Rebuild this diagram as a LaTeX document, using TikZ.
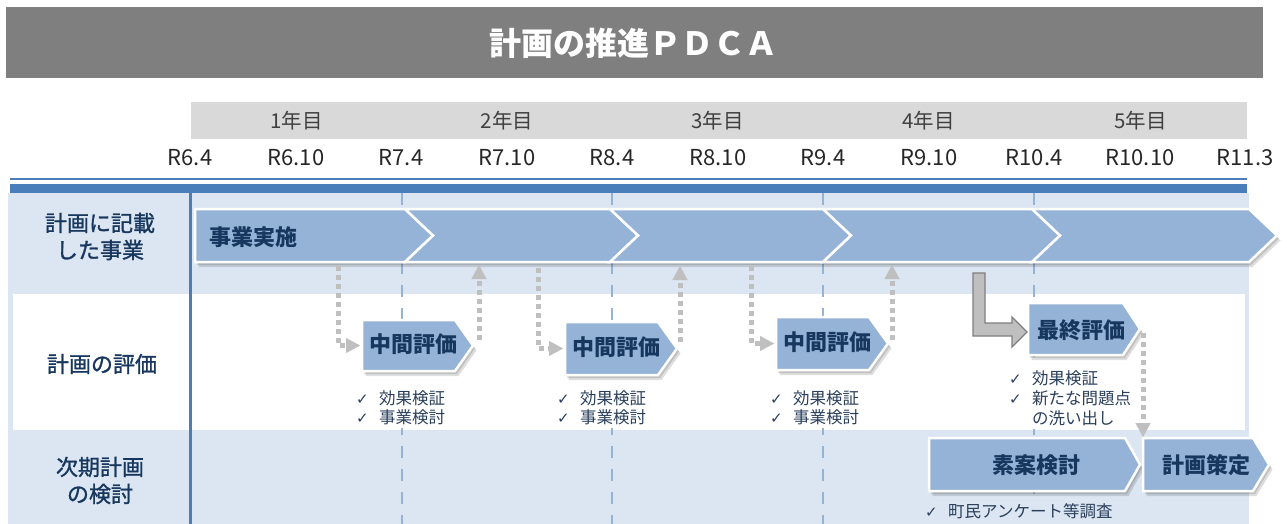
\documentclass[tikz,border=0pt]{standalone}
\usepackage{fontspec}
\setmainfont{Noto Sans CJK JP}
\newfontfamily\medfont{Noto Sans CJK JP}[RawFeature={embolden=1.2}]
\newfontfamily\symfont{DejaVu Sans}
\usetikzlibrary{arrows.meta}
\definecolor{titlegray}{HTML}{7F7F7F}
\definecolor{hdrgray}{HTML}{D9D9D9}
\definecolor{barblue}{HTML}{4A7EBB}
\definecolor{rowblue}{HTML}{DCE6F2}
\definecolor{shapeblue}{HTML}{95B3D7}
\definecolor{dashblue}{HTML}{95B3D7}
\definecolor{navy}{HTML}{17375E}
\definecolor{listnavy}{HTML}{2A3F5C}
\definecolor{dotgray}{HTML}{BFBFBF}
\definecolor{edgegray}{HTML}{7F7F7F}
\definecolor{txtgray}{HTML}{404040}
\newcommand{\fs}[2]{\fontsize{#1}{#2}\selectfont}
\newcommand{\chk}{\makebox[23pt][l]{\symfont\fontsize{15}{15}\selectfont ✓}}
% pentagon: style, left, corner, tip, top, bottom
\newcommand{\pent}[6]{\path[#1] (#2,#5) -- (#3,#5) -- (#4,{(#5+#6)/2}) -- (#3,#6) -- (#2,#6) -- cycle;}
% chevron: style, left, corner, tip, top, bottom, notch
\newcommand{\chev}[7]{\path[#1] (#2,#5) -- (#3,#5) -- (#4,{(#5+#6)/2}) -- (#3,#6) -- (#2,#6) -- (#7,{(#5+#6)/2}) -- cycle;}
\tikzset{
  blk/.style={fill=shapeblue, draw=white, line width=2.5pt, line join=miter},
  shda/.style={fill=black, opacity=0.13, shift={(2,3)}},
  shdb/.style={fill=black, opacity=0.13, shift={(3.5,5)}},
  shapetext/.style={text=navy, font=\bfseries\fs{22}{22}, inner sep=0pt},
  rowlabel/.style={text=navy, font=\medfont\fs{22}{27}, align=center, inner sep=0pt},
  listtext/.style={text=listnavy, font=\fs{16.5}{19.5}, align=left, inner sep=0pt, anchor=west},
  dotarrow/.style={draw=dotgray, line width=5pt, dash pattern=on 5pt off 4pt,
    -{Triangle[width=15pt,length=14pt,line width=0.1pt]}},
  yeartext/.style={text=txtgray, font=\fs{20.5}{20.5}, inner sep=0pt},
  datetext/.style={text=black!85, font=\fs{22}{22}, inner sep=0pt},
  vdash/.style={draw=dashblue, line width=2.5pt, dash pattern=on 12pt off 11pt},
  larrow/.style={fill=dotgray, draw=edgegray, line width=1.3pt, line join=miter}
}
\begin{document}
\begin{tikzpicture}[x=1pt,y=-1pt]
\useasboundingbox (0,0) rectangle (1287,524);
% title
\fill[titlegray] (6,7) rectangle (1263,78);
\node[text=white, font=\bfseries\fs{32}{32}, inner sep=0pt] (title) at (633,43) {計画の推進ＰＤＣＡ};
% year header
\foreach \a/\b/\t [count=\i] in {191/402/1年目,402/612/2年目,612/823/3年目,823/1034/4年目,1034/1247/5年目}{
  \fill[hdrgray] (\a,102) rectangle (\b,139);
  \draw[white, line width=1pt] (\b,102) -- (\b,139);
  \node[yeartext] (yr\i) at ({(\a+\b)/2},121) {\t};
}
% dates
\foreach \x/\t [count=\i] in {190/R6.4,296/R6.10,401/R7.4,507/R7.10,612/R8.4,718/R8.10,823/R9.4,929/R9.10,1034/R10.4,1140/R10.10,1245/R11.3}{
  \node[datetext] (dt\i) at (\x,158) {\t};
}
% bars
\draw[barblue, line width=2pt] (10,179) -- (1247,179);
\fill[barblue] (10,184) rectangle (1247,193);
% rows
\fill[rowblue] (8,193) rectangle (1249,524);
\fill[white] (13,294) rectangle (1245,430);
% dashed year lines
\foreach \x in {402,612,823,1034}{ \draw[vdash] (\x,193) -- (\x,524); }
% covers behind lists
\fill[white] (354,374) rectangle (452,428);
\fill[white] (555,377) rectangle (655,428);
\fill[white] (767,372) rectangle (865,428);
\fill[white] (1006,357) rectangle (1136,429);
\fill[rowblue] (920,494) rectangle (1115,524);
% left vertical line
\draw[barblue, line width=3pt] (190,193) -- (190,524);
% row labels
\node[rowlabel] (lab1) at (100,236.5) {計画に記載\\した事業};
\node[rowlabel] (lab2) at (102,364) {計画の評価};
\node[rowlabel] (lab3) at (100,480.5) {次期計画\\の検討};
% shadows
\foreach \s in {shdb,shda}{
  \pent{\s}{195}{405}{433}{209}{262}
  \chev{\s}{405}{610}{638}{209}{262}{433}
  \chev{\s}{610}{823}{851}{209}{262}{638}
  \chev{\s}{823}{1032}{1060}{209}{262}{851}
  \chev{\s}{1032}{1249}{1277}{209}{262}{1060}
  \pent{\s}{362}{455}{473}{320}{371}
  \pent{\s}{565}{658}{677}{322}{375}
  \pent{\s}{776}{869}{888}{317}{370}
  \pent{\s}{1028}{1123}{1140}{303}{355}
  \pent{\s}{929}{1125}{1140}{438}{491}
  \pent{\s}{1143}{1253}{1269}{438}{491}
}
% shapes
\pent{blk}{195}{405}{433}{209}{262}
\chev{blk}{405}{610}{638}{209}{262}{433}
\chev{blk}{610}{823}{851}{209}{262}{638}
\chev{blk}{823}{1032}{1060}{209}{262}{851}
\chev{blk}{1032}{1249}{1277}{209}{262}{1060}
\pent{blk}{362}{455}{473}{320}{371}
\pent{blk}{565}{658}{677}{322}{375}
\pent{blk}{776}{869}{888}{317}{370}
\pent{blk}{1028}{1123}{1140}{303}{355}
\pent{blk}{929}{1125}{1140}{438}{491}
\pent{blk}{1143}{1253}{1269}{438}{491}
% shape texts
\node[shapetext] (jigyo) at (253,237) {事業実施};
\node[shapetext] (mid1) at (413,344) {中間評価};
\node[shapetext] (mid2) at (616,347) {中間評価};
\node[shapetext] (mid3) at (827,342) {中間評価};
\node[shapetext] (final) at (1081,330) {最終評価};
\node[shapetext] (soan) at (1036,465) {素案検討};
\node[shapetext] (sakutei) at (1206,465) {計画策定};
% lists
\node[listtext] (l1a) at (356,398) {\chk 効果検証};
\node[listtext] (l1b) at (356,417) {\chk 事業検討};
\node[listtext] (l2a) at (557,398) {\chk 効果検証};
\node[listtext] (l2b) at (557,417) {\chk 事業検討};
\node[listtext] (l3a) at (770,398) {\chk 効果検証};
\node[listtext] (l3b) at (770,417) {\chk 事業検討};
\node[listtext] (l4a) at (1009,378) {\chk 効果検証};
\node[listtext] (l4b) at (1009,398) {\chk 新たな問題点};
\node[listtext] (l4c) at (1032,418) {の洗い出し};
\node[listtext] (l5a) at (925,511) {\chk 町民アンケート等調査};
% connector coordinates
\coordinate (d1s) at (338,266); \coordinate (p1w) at (360,345.5);
\coordinate (u1s) at (479,340); \coordinate (u1e) at (479,265);
\coordinate (d2s) at (538,268); \coordinate (p2w) at (563,348.5);
\coordinate (u2s) at (680,342); \coordinate (u2e) at (680,266);
\coordinate (d3s) at (751,266); \coordinate (p3w) at (774,343.5);
\coordinate (u3s) at (892,340); \coordinate (u3e) at (892,265);
\coordinate (fs) at (1143,333); \coordinate (fe) at (1143,437);
\draw[dotarrow] (d1s) |- (p1w);
\draw[dotarrow] (u1s) -- (u1e);
\draw[dotarrow] (d2s) |- (p2w);
\draw[dotarrow] (u2s) -- (u2e);
\draw[dotarrow] (d3s) |- (p3w);
\draw[dotarrow] (u3s) -- (u3e);
\draw[dotarrow] (fs) -- (fe);
% big L arrow
\path[larrow] (973,273) -- (985,273) -- (985,323) -- (1012,323) -- (1012,317) -- (1027,332) -- (1012,347) -- (1012,336) -- (973,336) -- cycle;
\end{tikzpicture}
\end{document}
